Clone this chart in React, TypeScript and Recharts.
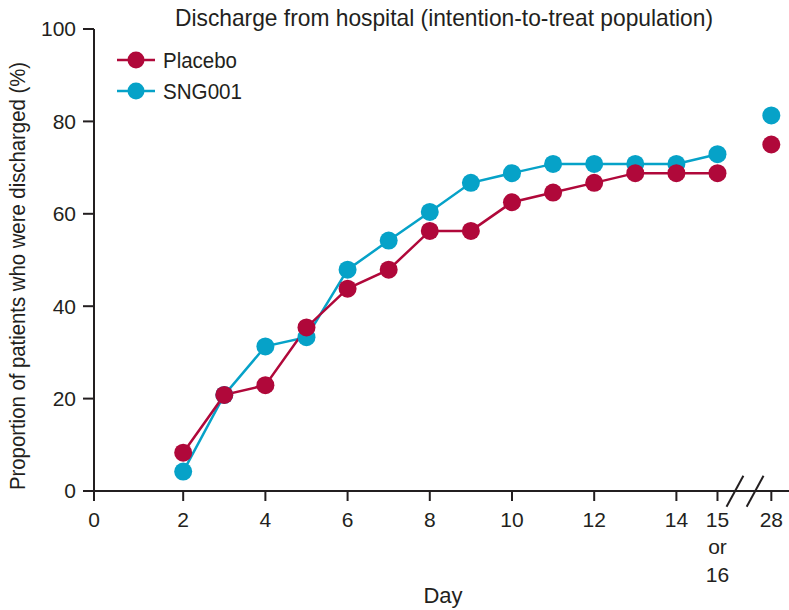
import React from 'react';
import { LineChart, Line, XAxis, YAxis, ReferenceLine } from 'recharts';

// ---- data ----
const DAYS = [2, 3, 4, 5, 6, 7, 8, 9, 10, 11, 12, 13, 14, 15];
const PLACEBO = [8.3, 20.8, 22.9, 35.4, 43.8, 47.9, 56.3, 56.3, 62.5, 64.6, 66.7, 68.8, 68.8, 68.8];
const SNG001 = [4.2, 20.8, 31.3, 33.3, 47.9, 54.2, 60.4, 66.7, 68.8, 70.8, 70.8, 70.8, 70.8, 72.9];
const DAY28_PLACEBO = 75.0;
const DAY28_SNG001 = 81.3;

// broken axis: day 28 is placed just after the break
const DAY28_AXIS_POS = 16.31;
const X_DOMAIN: [number, number] = [-0.17, 16.74];
const X_TICKS = [-0.17, 2, 4, 6, 8, 10, 12, 14, 15, DAY28_AXIS_POS];
const X_TICK_LABELS = ['0', '2', '4', '6', '8', '10', '12', '14', '15|or|16', '28'];
const Y_TICKS = [0, 20, 40, 60, 80, 100];
const BREAK_MARKS = [
  [{ x: 15.22, y: -3.4 }, { x: 15.63, y: 3.3 }],
  [{ x: 15.71, y: -3.4 }, { x: 16.12, y: 3.3 }],
];

const SERIES = [
  { key: 'placebo', name: 'Placebo', color: '#B0083A' },
  { key: 'sng', name: 'SNG001', color: '#06A2C8' },
];

const TITLE = 'Discharge from hospital (intention-to-treat population)';
const Y_LABEL = 'Proportion of patients who were discharged (%)';
const X_LABEL = 'Day';

const data: any[] = DAYS.map((d, i) => ({ x: d, placebo: PLACEBO[i], sng: SNG001[i] }));
data.push({ x: DAY28_AXIS_POS, placebo28: DAY28_PLACEBO, sng28: DAY28_SNG001 });

const FONT = '"Liberation Sans", Arial, sans-serif';
const INK = '#231f20';

const XTick = (props: any) => {
  const { x, y, payload } = props;
  const idx = X_TICKS.indexOf(payload.value);
  const label = idx >= 0 ? X_TICK_LABELS[idx] : String(payload.value);
  const lines = label.split('|');
  const offsets = [26, 53, 81];
  return (
    <g>
      {lines.map((t, i) => (
        <text key={i} x={x} y={y + offsets[i]} textAnchor="middle" fontSize={21} fill={INK} fontFamily={FONT}>
          {t}
        </text>
      ))}
    </g>
  );
};

export default function App() {
  return (
    <div style={{ position: 'absolute', left: 0, top: 0, width: 789, height: 610, background: '#fff' }}>
      <LineChart
        width={789}
        height={610}
        data={data}
        margin={{ top: 29, right: 0, bottom: 19, left: 0 }}
      >
        <XAxis
          type="number"
          dataKey="x"
          domain={X_DOMAIN}
          ticks={X_TICKS}
          interval={0}
          allowDataOverflow
          height={100}
          tickSize={10}
          tickMargin={0}
          axisLine={{ stroke: INK, strokeWidth: 2 }}
          tickLine={{ stroke: INK, strokeWidth: 2 }}
          tick={<XTick />}
        />
        <YAxis
          type="number"
          domain={[0, 100]}
          ticks={Y_TICKS}
          interval={0}
          width={94}
          tickSize={11}
          tickMargin={7}
          axisLine={{ stroke: INK, strokeWidth: 2 }}
          tickLine={{ stroke: INK, strokeWidth: 2 }}
          tick={{ fill: INK, fontSize: 21, fontFamily: FONT }}
        />
        {BREAK_MARKS.map((seg, i) => (
          <ReferenceLine key={i} segment={seg} stroke={INK} strokeWidth={2} ifOverflow="visible" />
        ))}
        <Line
          dataKey="sng"
          stroke={SERIES[1].color}
          strokeWidth={2.5}
          dot={{ r: 9, fill: SERIES[1].color, stroke: 'none' }}
          isAnimationActive={false}
        />
        <Line
          dataKey="sng28"
          stroke="none"
          dot={{ r: 9, fill: SERIES[1].color, stroke: 'none' }}
          isAnimationActive={false}
        />
        <Line
          dataKey="placebo"
          stroke={SERIES[0].color}
          strokeWidth={2.5}
          dot={{ r: 9, fill: SERIES[0].color, stroke: 'none' }}
          isAnimationActive={false}
        />
        <Line
          dataKey="placebo28"
          stroke="none"
          dot={{ r: 9, fill: SERIES[0].color, stroke: 'none' }}
          isAnimationActive={false}
        />
      </LineChart>
      <svg width={789} height={610} style={{ position: 'absolute', left: 0, top: 0, pointerEvents: 'none' }}>
        <text x={444} y={26} textAnchor="middle" fontSize={24} fill={INK} fontFamily={FONT}
          textLength={538} lengthAdjust="spacingAndGlyphs">{TITLE}</text>
        <text x={0} y={0} transform="translate(25,276) rotate(-90)" textAnchor="middle" fontSize={22}
          fill={INK} fontFamily={FONT} textLength={428} lengthAdjust="spacingAndGlyphs">{Y_LABEL}</text>
        <text x={443} y={603} textAnchor="middle" fontSize={22} fill={INK} fontFamily={FONT}>{X_LABEL}</text>
        {SERIES.map((s, i) => {
          const cy = 60 + i * 31;
          return (
            <g key={s.key}>
              <line x1={117} x2={155} y1={cy} y2={cy} stroke={s.color} strokeWidth={2.5} />
              <circle cx={136} cy={cy} r={8.5} fill={s.color} />
              <text x={163} y={cy + 8} fontSize={22} fill={INK} fontFamily={FONT}
                textLength={s.name === 'Placebo' ? 74 : 79} lengthAdjust="spacingAndGlyphs">{s.name}</text>
            </g>
          );
        })}
      </svg>
    </div>
  );
}
